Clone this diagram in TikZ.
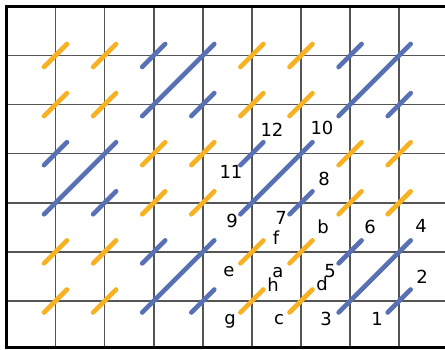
\documentclass[tikz,border=0pt]{standalone}
\usepackage{fontspec}
\setmainfont{DejaVu Sans}
\definecolor{segy}{RGB}{247,178,35}
\definecolor{segb}{RGB}{88,112,180}
\definecolor{gridc}{RGB}{85,85,85}
\tikzset{
  gridline/.style={draw=gridc, line width=1.6pt},
  frameline/.style={draw=black, line width=3pt},
  yseg/.style={draw=segy, line width=4.6pt, line cap=round},
  bseg/.style={draw=segb, line width=4.6pt, line cap=round},
  lbl/.style={anchor=base, inner sep=0pt, font=\fontsize{18}{20}\selectfont, text=black}
}
\newcommand{\gx}[1]{55.5+49.1*(#1-1)}
\begin{document}
\begin{tikzpicture}[x=1pt,y=-1pt]
\useasboundingbox (0,0) rectangle (445,350);
\fill[white] (0,0) rectangle (445,350);
% grid
\foreach \i in {1,...,8} \draw[gridline] ({\gx{\i}},6.5) -- ({\gx{\i}},347.5);
\foreach \r in {1,...,6} \draw[gridline] (6.5,{\gx{\r}}) -- (445,{\gx{\r}});
\draw[frameline] (445,6.5) -- (6.5,6.5) -- (6.5,347.5) -- (445,347.5);
% short yellow segments
\foreach \i/\r in {1/1,2/1,5/1,6/1, 1/2,2/2,5/2,6/2, 3/3,4/3,7/3,8/3, 3/4,4/4,7/4,8/4, 1/5,2/5,5/5,6/5, 1/6,2/6,5/6,6/6}
  \draw[yseg] ({\gx{\i}-11.5},{\gx{\r}+11.5}) -- ({\gx{\i}+11.5},{\gx{\r}-11.5});
% short blue segments
\foreach \i/\r in {3/1,7/1, 4/2,8/2, 1/3,5/3, 2/4,6/4, 3/5,7/5, 4/6,8/6}
  \draw[bseg] ({\gx{\i}-11.5},{\gx{\r}+11.5}) -- ({\gx{\i}+11.5},{\gx{\r}-11.5});
% long blue segments
\foreach \i/\r in {3/2,7/2, 1/4,5/4, 3/6,7/6}
  \draw[bseg] ({\gx{\i}-11.5},{\gx{\r}+11.5}) -- ({\gx{\i}+49.1+11.5},{\gx{\r}-49.1-11.5});
% labels
\node[lbl] (n12) at (272,137) {12};
\node[lbl] (n10) at (322,135) {10};
\node[lbl] (n11) at (231,178.5) {11};
\node[lbl] (n8) at (324,185.5) {8};
\node[lbl] (n9) at (232,227.5) {9};
\node[lbl] (n7) at (281,224.5) {7};
\node[lbl] (nb) at (323,233.5) {b};
\node[lbl] (n6) at (370,233.5) {6};
\node[lbl] (n4) at (421,232.5) {4};
\node[lbl] (nf) at (276,244.5) {f};
\node[lbl] (ne) at (229,276.5) {e};
\node[lbl] (na) at (278,277.5) {a};
\node[lbl] (nh) at (273,291.5) {h};
\node[lbl] (n5) at (330,277.5) {5};
\node[lbl] (nd) at (322,290.5) {d};
\node[lbl] (n2) at (422,283.5) {2};
\node[lbl] (ng) at (230,324.5) {g};
\node[lbl] (nc) at (279,324.5) {c};
\node[lbl] (n3) at (326,325) {3};
\node[lbl] (n1) at (377,325) {1};
\end{tikzpicture}
\end{document}
